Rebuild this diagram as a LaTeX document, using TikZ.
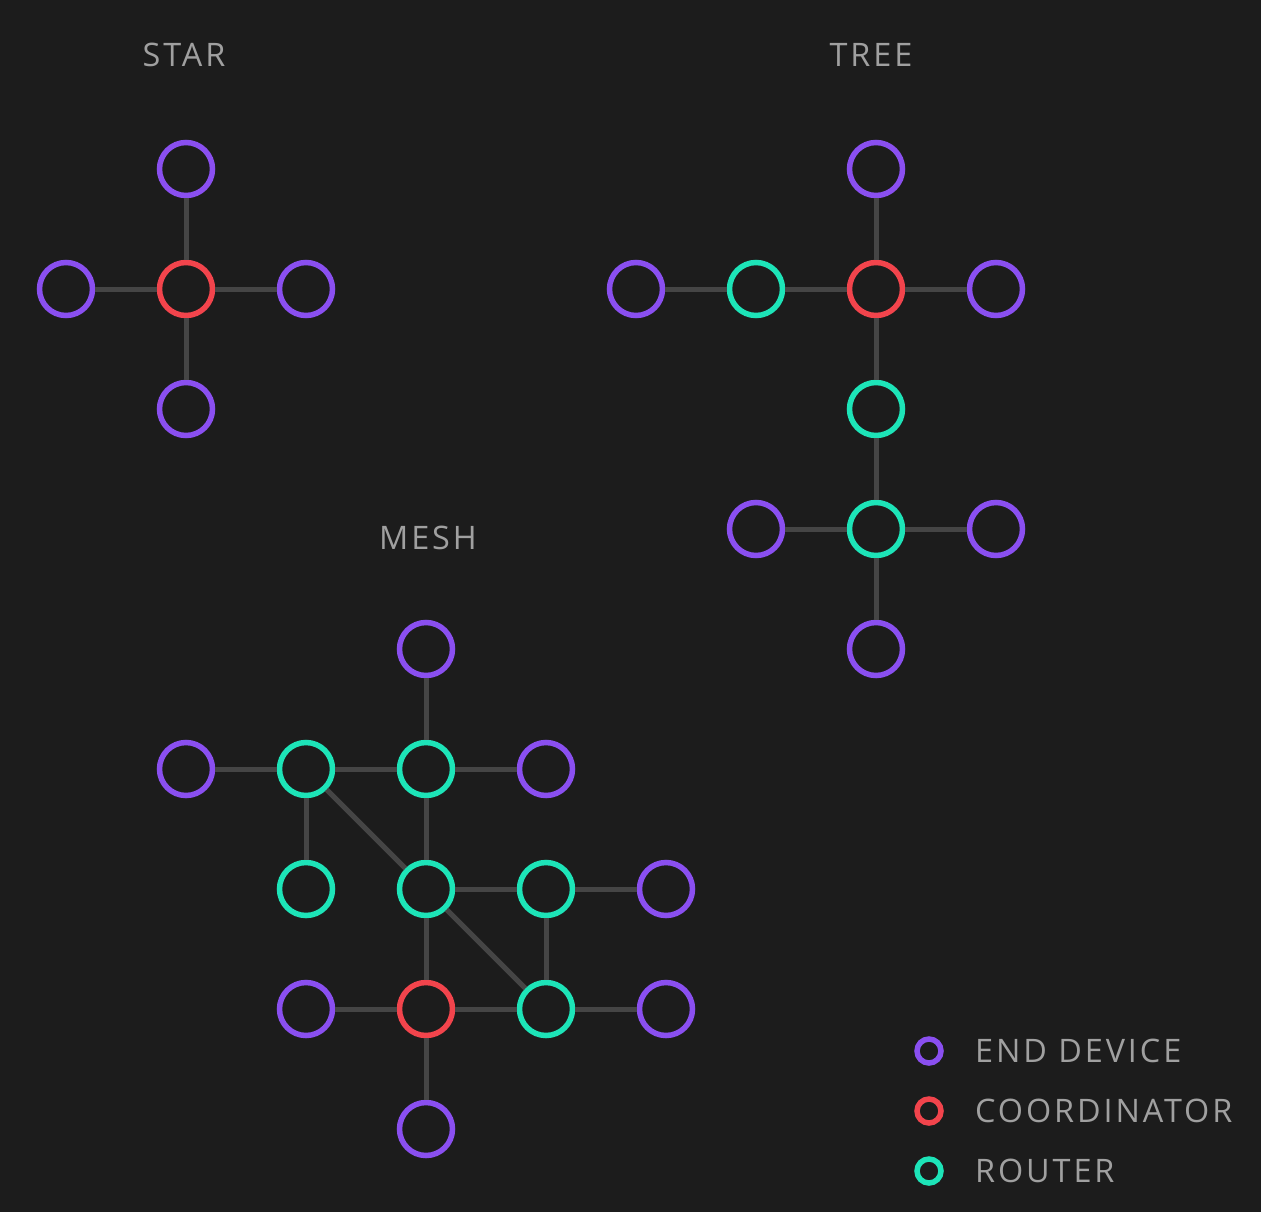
\documentclass[tikz,border=0pt]{standalone}
\usepackage{fontspec}
\setmainfont{Open Sans}[LetterSpace=9]
\definecolor{bggray}{HTML}{1C1C1C}
\definecolor{endpurple}{HTML}{8A4FF0}
\definecolor{coordred}{HTML}{F2444C}
\definecolor{routergreen}{HTML}{1DE4B8}
\definecolor{linkgray}{HTML}{454545}
\definecolor{labelgray}{HTML}{A0A0A0}
\tikzset{
    dev/.style={draw, circle, line width=5.5bp, minimum size=53bp, inner sep=0pt},
    enddevice/.style={dev, draw=endpurple},
    coordinator/.style={dev, draw=coordred},
    router/.style={dev, draw=routergreen},
    keydot/.style={draw, circle, line width=5.5bp, minimum size=24bp, inner sep=0pt},
    link/.style={draw=linkgray, line width=5bp},
    title/.style={text=labelgray, inner sep=0pt, font=\fontsize{32.5}{38}\selectfont},
}
\begin{document}
\begin{tikzpicture}[x=1bp, y=-1bp]
    \fill[bggray] (0,0) rectangle (1261,1212);
    \useasboundingbox (0,0) rectangle (1261,1212);

    % star
    \node[title] (startitle) at (184,55) {STAR};
    \node[coordinator] (s0) at (186,289) {};
    \foreach \n/\x/\y in {1/186/169, 2/306/289, 3/186/409, 4/66/289} {
        \node[enddevice] (s\n) at (\x,\y) {};
        \draw[link] (s0) -- (s\n);
    }

    % tree
    \node[title] (treetitle) at (871,55) {TREE};
    \node[coordinator] (t0) at (876,289) {};
    \foreach \n/\x/\y in {1/756/289, 2/876/409, 3/876/529} {
        \node[router] (t\n) at (\x,\y) {};
    }
    \foreach \n/\x/\y in {4/876/169, 5/996/289, 6/636/289, 7/756/529, 8/996/529, 9/876/649} {
        \node[enddevice] (t\n) at (\x,\y) {};
    }
    \foreach \a/\b in {0/1, 0/2, 0/4, 0/5, 1/6, 2/3, 3/7, 3/8, 3/9} {
        \draw[link] (t\a) -- (t\b);
    }

    % mesh
    \node[title] (meshtitle) at (428,538) {MESH};
    \node[coordinator] (m0) at (426,1009) {};
    \foreach \n/\x/\y in {1/306/769, 2/426/769, 3/306/889, 4/426/889, 5/546/889, 6/546/1009} {
        \node[router] (m\n) at (\x,\y) {};
    }
    \foreach \n/\x/\y in {7/426/649, 8/186/769, 9/546/769, 10/666/889, 11/306/1009, 12/666/1009, 13/426/1129} {
        \node[enddevice] (m\n) at (\x,\y) {};
    }
    \foreach \a/\b in {8/1, 1/2, 2/9, 7/2, 1/3, 1/4, 2/4, 4/5, 5/10, 4/6, 5/6, 4/0, 11/0, 0/6, 6/12, 0/13} {
        \draw[link] (m\a) -- (m\b);
    }

    % legend
    \foreach \i/\c/\t in {1/endpurple/END DEVICE, 2/coordred/COORDINATOR, 3/routergreen/ROUTER} {
        \node[keydot, draw=\c] (k\i) at (929,{991+60*\i}) {};
        \node[title, anchor=west] (kl\i) at (975,{991+60*\i}) {\t};
    }
\end{tikzpicture}
\end{document}
